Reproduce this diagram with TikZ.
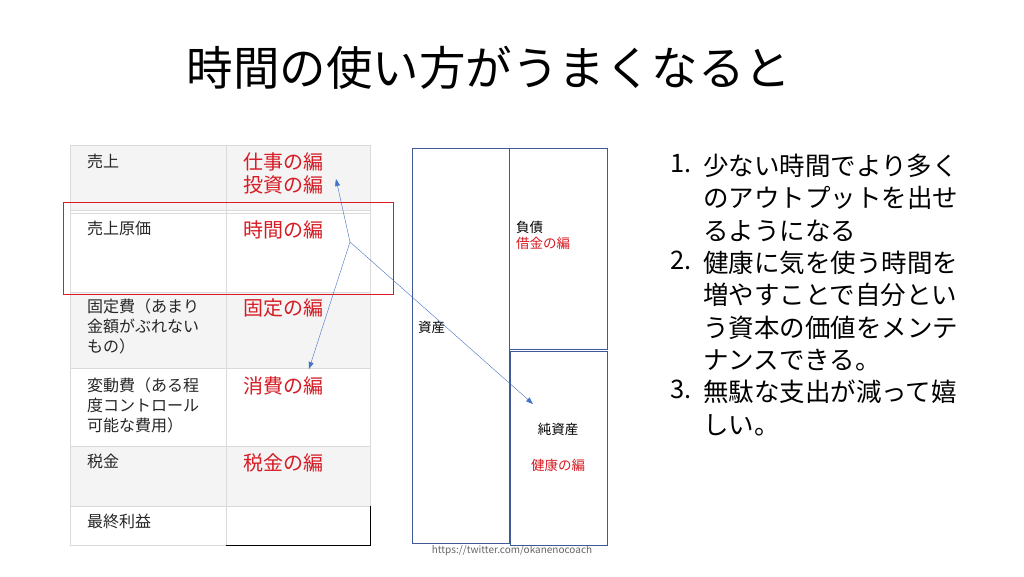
\documentclass[tikz,border=0pt]{standalone}
\usepackage{fontspec}
\usetikzlibrary{arrows.meta}
\setmainfont{Noto Sans CJK JP}
\definecolor{hengred}{RGB}{214,28,36}
\definecolor{rowgray}{RGB}{244,244,244}
\definecolor{linegray}{RGB}{218,218,218}
\definecolor{boxblue}{RGB}{62,90,150}
\definecolor{arrowblue}{RGB}{68,114,196}
\tikzset{
  lefttext/.style={anchor=north west, inner sep=0pt, align=left, font=\fontsize{16}{20}\selectfont, text=black!85},
  redtext/.style={anchor=north west, inner sep=0pt, align=left, font=\fontsize{20}{23}\selectfont, text=hengred},
  bstext/.style={inner sep=0pt, align=left, font=\fontsize{13.5}{16}\selectfont},
  listtext/.style={anchor=north west, inner sep=0pt, align=left, font=\fontsize{25.5}{32.3}\selectfont},
}
\begin{document}
\begin{tikzpicture}[x=1pt, y=-1pt, >={Triangle[length=7pt,width=5pt]}]
    \useasboundingbox (0,0) rectangle (1024,576);
    \fill[white] (0,0) rectangle (1024,576);

    % 标题
    \node[inner sep=0pt, font=\fontsize{46.5}{50}\selectfont] (title) at (489,68) {時間の使い方がうまくなると};

    % 表格底色 (灰白相间)
    \fill[rowgray] (70,145) rectangle (370,210);
    \fill[rowgray] (70,292) rectangle (370,368);
    \fill[rowgray] (70,446) rectangle (370,506);

    % 表格线
    \draw[linegray] (70,145) rectangle (370,545);
    \foreach \y in {210,213,292,368,446,506}
        \draw[linegray] (70,\y) -- (370,\y);
    \draw[linegray] (226,145) -- (226,545);
    \draw[black, thick] (226,545) -- (370,545) -- (370,506);

    % 左列文字
    \node[lefttext] (sales) at (87,154) {売上};
    \node[lefttext] (cost) at (87,221) {売上原価};
    \node[lefttext] (fixed) at (87,299) {固定費（あまり\\金額がぶれない\\もの）};
    \node[lefttext] (var) at (87,378) {変動費（ある程\\度コントロール\\可能な費用）};
    \node[lefttext] (tax) at (87,454) {税金};
    \node[lefttext] (profit) at (87,514) {最終利益};

    % 右列红字
    \node[redtext] (work) at (243,152) {仕事の編\\投資の編};
    \node[redtext] (time) at (243,220) {時間の編};
    \node[redtext] (fix) at (243,298) {固定の編};
    \node[redtext] (spend) at (243,376) {消費の編};
    \node[redtext] (taxr) at (243,453) {税金の編};

    % 红框
    \draw[hengred, thick] (63,202) rectangle (393,294);

    % 资产负债表
    \draw[boxblue, thick] (412,148) rectangle (509,543);
    \draw[boxblue, thick] (509,148) rectangle (607,349);
    \draw[boxblue, thick] (510,351) rectangle (607,545);
    \node[bstext, anchor=west] (asset) at (418,327) {資産};
    \node[bstext, anchor=north west] (debt) at (516,221) {負債\\\textcolor{hengred}{借金の編}};
    \node[bstext] (equity) at (558,429) {純資産};
    \node[bstext, text=hengred] (health) at (558,465) {健康の編};

    % 箭头
    \coordinate (hub) at (350,242);
    \coordinate (tipup) at (336,179);
    \coordinate (tipdown) at (309,369);
    \coordinate (tipright) at (533,404);
    \draw[arrowblue, ->] (hub) -- (tipup);
    \draw[arrowblue, ->] (hub) -- (tipdown);
    \draw[arrowblue, ->] (hub) -- (tipright);

    % 网址
    \node[inner sep=0pt, font=\fontsize{10}{12}\selectfont, text=black!60] (url) at (512,551) {https://twitter.com/okanenocoach};

    % 右侧列表
    \node[listtext] (item1) at (703,154) {少ない時間でより多く\\のアウトプットを出せ\\るようになる};
    \node[listtext] (item2) at (703,251) {健康に気を使う時間を\\増やすことで自分とい\\う資本の価値をメンテ\\ナンスできる。};
    \node[listtext] (item3) at (703,380) {無駄な支出が減って嬉\\しい。};
    \node[listtext, anchor=north east, xshift=-11pt] (num1) at (item1.north west) {1.};
    \node[listtext, anchor=north east, xshift=-11pt] (num2) at (item2.north west) {2.};
    \node[listtext, anchor=north east, xshift=-11pt] (num3) at (item3.north west) {3.};
\end{tikzpicture}
\end{document}
